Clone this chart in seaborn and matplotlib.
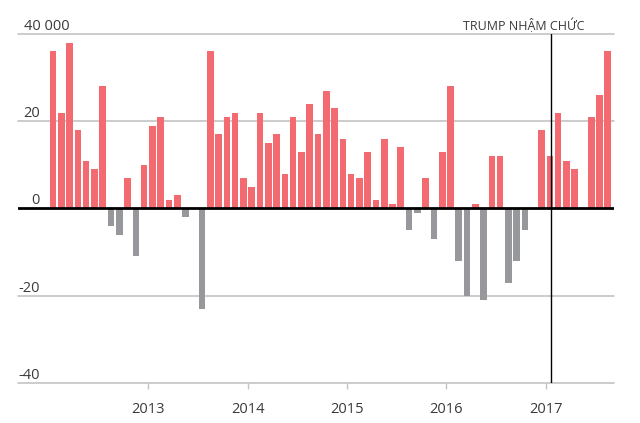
import numpy as np
import pandas as pd
import seaborn as sns
import matplotlib.pyplot as plt

# monthly values (thousands), Jan 2012 .. Aug 2017
values = [36, 22, 38, 18, 11, 9, 28, -4, -6, 7, -11, 10,
          19, 21, 2, 3, -2, 0, -23, 36, 17, 21, 22, 7,
          5, 22, 15, 17, 8, 21, 13, 24, 17, 27, 23, 16,
          8, 7, 13, 2, 16, 1, 14, -5, -1, 7, -7, 13,
          28, -12, -20, 1, -21, 12, 12, -17, -12, -5, 0, 18,
          12, 22, 11, 9, 0, 21, 26, 36]
years = [2013, 2014, 2015, 2016, 2017]
ytick_vals = [40, 20, 0, -20, -40]
ytick_labels = ["40 000", "20", "0", "-20", "-40"]
event_label = "TRUMP NHẬM CHỨC"
event_pos = 60 + 19 / 31 - 0.5   # 20 Jan 2017 on the month axis

RED = "#f36a70"
GRAY = "#97989c"
TEXT = "#3a3a3a"
GRID = "#c4c4c4"

sns.set_theme(style="white")
plt.rcParams["font.family"] = ["Open Sans", "DejaVu Sans"]

df = pd.DataFrame({
    "month": np.arange(len(values)),
    "value": values,
})
df["sign"] = np.where(df["value"] >= 0, "pos", "neg")

fig = plt.figure(figsize=(6.4, 4.23), dpi=100)
ax = fig.add_axes([18 / 640, 1 - 383 / 423, (614 - 18) / 640, (383 - 34) / 423])

sns.barplot(data=df, x="month", y="value", hue="sign",
            palette={"pos": RED, "neg": GRAY}, native_scale=True,
            dodge=False, legend=False, width=0.8, linewidth=0,
            saturation=1, ax=ax)

for v in ytick_vals:
    if v != 0:
        ax.axhline(v, color=GRID, lw=1.2, zorder=0, clip_on=False)
ax.axhline(0, color="black", lw=2, zorder=3)
ax.axvline(event_pos, color="black", lw=1, zorder=4)

ax.set_xlim(-4.23, 67.75)
ax.set_ylim(-40, 40)
for s in ax.spines.values():
    s.set_visible(False)

ax.set_xticks([(y - 2012) * 12 - 0.5 for y in years])
ax.set_xticklabels([str(y) for y in years])
ax.tick_params(axis="x", bottom=True, length=4.5, width=1, color=GRID,
               pad=9, labelsize=10.5, labelcolor=TEXT)
ax.set_yticks([])
ax.set_xlabel("")
ax.set_ylabel("")

ytr = ax.get_yaxis_transform()
for v, lab in zip(ytick_vals, ytick_labels):
    if v == 40:
        ax.annotate(lab, xy=(0.01, v), xycoords=ytr, xytext=(0, 3),
                    textcoords="offset points", ha="left", va="baseline",
                    fontsize=10.5, color=TEXT)
    else:
        ax.annotate(lab, xy=(0.037, v), xycoords=ytr, xytext=(0, 3),
                    textcoords="offset points", ha="right", va="baseline",
                    fontsize=10.5, color=TEXT)

ax.annotate(event_label, xy=(49.5, 40), xycoords="data", xytext=(0, 3),
            textcoords="offset points", ha="left", va="baseline",
            fontsize=9, color=TEXT, annotation_clip=False)

fig.savefig("out.png", dpi=100)
